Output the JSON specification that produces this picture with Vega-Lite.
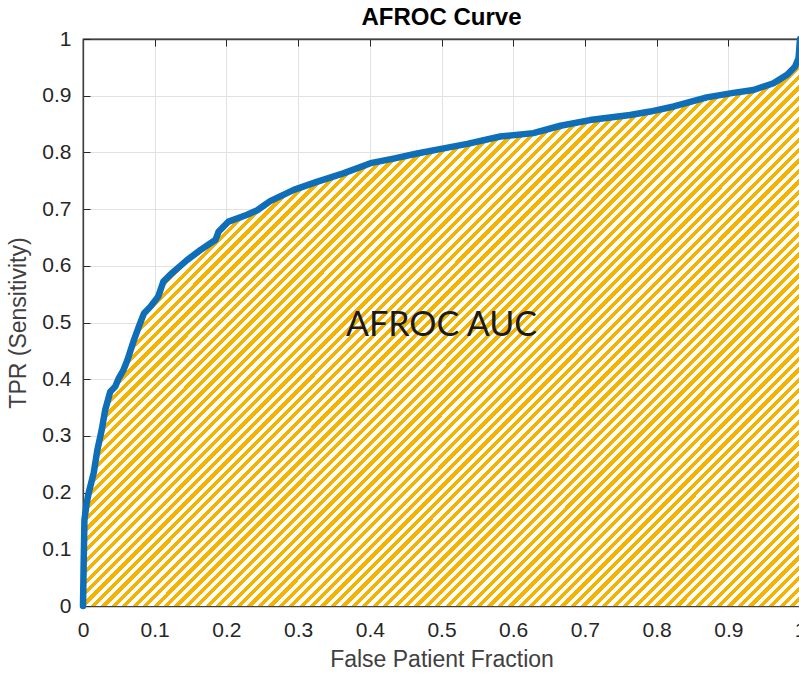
{
  "$schema": "https://vega.github.io/schema/vega-lite/v6.json",
  "width": 717,
  "height": 567,
  "autosize": {"type": "none"},
  "padding": {"left": 83, "top": 39, "right": 0, "bottom": 69},
  "background": "white",
  "config": {"view": {"stroke": "#404040", "strokeWidth": 1.3}, "font": "Liberation Sans"},
  "title": {"text": "AFROC Curve", "fontSize": 24, "fontWeight": "bold", "color": "#000000", "font": "Liberation Sans", "offset": -2},
  "datasets": {
    "curve": [
      {"fpf": 0, "tpr": 0},
      {"fpf": 0.001, "tpr": 0.08},
      {"fpf": 0.002, "tpr": 0.152},
      {"fpf": 0.005, "tpr": 0.18},
      {"fpf": 0.008, "tpr": 0.2},
      {"fpf": 0.015, "tpr": 0.235},
      {"fpf": 0.02, "tpr": 0.275},
      {"fpf": 0.026, "tpr": 0.31},
      {"fpf": 0.031, "tpr": 0.346},
      {"fpf": 0.038, "tpr": 0.378},
      {"fpf": 0.045, "tpr": 0.387},
      {"fpf": 0.05, "tpr": 0.402},
      {"fpf": 0.056, "tpr": 0.415},
      {"fpf": 0.062, "tpr": 0.434},
      {"fpf": 0.071, "tpr": 0.469},
      {"fpf": 0.078, "tpr": 0.493},
      {"fpf": 0.085, "tpr": 0.516},
      {"fpf": 0.094, "tpr": 0.528},
      {"fpf": 0.105, "tpr": 0.546},
      {"fpf": 0.112, "tpr": 0.572},
      {"fpf": 0.124, "tpr": 0.587},
      {"fpf": 0.145, "tpr": 0.61},
      {"fpf": 0.164, "tpr": 0.628},
      {"fpf": 0.185, "tpr": 0.646},
      {"fpf": 0.189, "tpr": 0.66},
      {"fpf": 0.203, "tpr": 0.678},
      {"fpf": 0.229, "tpr": 0.69},
      {"fpf": 0.243, "tpr": 0.698},
      {"fpf": 0.261, "tpr": 0.714},
      {"fpf": 0.294, "tpr": 0.734},
      {"fpf": 0.326, "tpr": 0.748},
      {"fpf": 0.363, "tpr": 0.763},
      {"fpf": 0.401, "tpr": 0.781},
      {"fpf": 0.433, "tpr": 0.789},
      {"fpf": 0.466, "tpr": 0.798},
      {"fpf": 0.503, "tpr": 0.807},
      {"fpf": 0.536, "tpr": 0.815},
      {"fpf": 0.582, "tpr": 0.828},
      {"fpf": 0.628, "tpr": 0.834},
      {"fpf": 0.666, "tpr": 0.847},
      {"fpf": 0.707, "tpr": 0.857},
      {"fpf": 0.763, "tpr": 0.866},
      {"fpf": 0.791, "tpr": 0.872},
      {"fpf": 0.824, "tpr": 0.881},
      {"fpf": 0.87, "tpr": 0.897},
      {"fpf": 0.907, "tpr": 0.905},
      {"fpf": 0.935, "tpr": 0.91},
      {"fpf": 0.963, "tpr": 0.922},
      {"fpf": 0.982, "tpr": 0.937},
      {"fpf": 0.993, "tpr": 0.951},
      {"fpf": 0.998, "tpr": 0.966},
      {"fpf": 1.0, "tpr": 1.0}
    ],
    "label": [{"fpf": 0.5, "tpr": 0.494, "text": "AFROC AUC"}]
  },
  "layer": [
    {
      "data": {"name": "curve"},
      "mark": {
        "type": "area",
        "stroke": null,
        "fill": {
          "gradient": "linear", "x1": 0, "y1": 0, "x2": 1.12, "y2": 0.885,
          "stops": [
            {"offset": 0, "color": "#F3B300"},
            {"offset": 0.004, "color": "#F3B300"},{"offset": 0.004, "color": "#FFFFFF"},{"offset": 0.008, "color": "#FFFFFF"},{"offset": 0.008, "color": "#F3B300"},{"offset": 0.012, "color": "#F3B300"},{"offset": 0.012, "color": "#FFFFFF"},{"offset": 0.016, "color": "#FFFFFF"},{"offset": 0.016, "color": "#F3B300"},{"offset": 0.02, "color": "#F3B300"},{"offset": 0.02, "color": "#FFFFFF"},{"offset": 0.024, "color": "#FFFFFF"},{"offset": 0.024, "color": "#F3B300"},{"offset": 0.028, "color": "#F3B300"},{"offset": 0.028, "color": "#FFFFFF"},{"offset": 0.032, "color": "#FFFFFF"},{"offset": 0.032, "color": "#F3B300"},{"offset": 0.036, "color": "#F3B300"},{"offset": 0.036, "color": "#FFFFFF"},{"offset": 0.04, "color": "#FFFFFF"},{"offset": 0.04, "color": "#F3B300"},
            {"offset": 0.044, "color": "#F3B300"},{"offset": 0.044, "color": "#FFFFFF"},{"offset": 0.048, "color": "#FFFFFF"},{"offset": 0.048, "color": "#F3B300"},{"offset": 0.052, "color": "#F3B300"},{"offset": 0.052, "color": "#FFFFFF"},{"offset": 0.056, "color": "#FFFFFF"},{"offset": 0.056, "color": "#F3B300"},{"offset": 0.06, "color": "#F3B300"},{"offset": 0.06, "color": "#FFFFFF"},{"offset": 0.064, "color": "#FFFFFF"},{"offset": 0.064, "color": "#F3B300"},{"offset": 0.068, "color": "#F3B300"},{"offset": 0.068, "color": "#FFFFFF"},{"offset": 0.072, "color": "#FFFFFF"},{"offset": 0.072, "color": "#F3B300"},{"offset": 0.076, "color": "#F3B300"},{"offset": 0.076, "color": "#FFFFFF"},{"offset": 0.08, "color": "#FFFFFF"},{"offset": 0.08, "color": "#F3B300"},
            {"offset": 0.084, "color": "#F3B300"},{"offset": 0.084, "color": "#FFFFFF"},{"offset": 0.088, "color": "#FFFFFF"},{"offset": 0.088, "color": "#F3B300"},{"offset": 0.092, "color": "#F3B300"},{"offset": 0.092, "color": "#FFFFFF"},{"offset": 0.096, "color": "#FFFFFF"},{"offset": 0.096, "color": "#F3B300"},{"offset": 0.1, "color": "#F3B300"},{"offset": 0.1, "color": "#FFFFFF"},{"offset": 0.104, "color": "#FFFFFF"},{"offset": 0.104, "color": "#F3B300"},{"offset": 0.108, "color": "#F3B300"},{"offset": 0.108, "color": "#FFFFFF"},{"offset": 0.112, "color": "#FFFFFF"},{"offset": 0.112, "color": "#F3B300"},{"offset": 0.116, "color": "#F3B300"},{"offset": 0.116, "color": "#FFFFFF"},{"offset": 0.12, "color": "#FFFFFF"},{"offset": 0.12, "color": "#F3B300"},
            {"offset": 0.124, "color": "#F3B300"},{"offset": 0.124, "color": "#FFFFFF"},{"offset": 0.128, "color": "#FFFFFF"},{"offset": 0.128, "color": "#F3B300"},{"offset": 0.132, "color": "#F3B300"},{"offset": 0.132, "color": "#FFFFFF"},{"offset": 0.136, "color": "#FFFFFF"},{"offset": 0.136, "color": "#F3B300"},{"offset": 0.14, "color": "#F3B300"},{"offset": 0.14, "color": "#FFFFFF"},{"offset": 0.144, "color": "#FFFFFF"},{"offset": 0.144, "color": "#F3B300"},{"offset": 0.148, "color": "#F3B300"},{"offset": 0.148, "color": "#FFFFFF"},{"offset": 0.152, "color": "#FFFFFF"},{"offset": 0.152, "color": "#F3B300"},{"offset": 0.156, "color": "#F3B300"},{"offset": 0.156, "color": "#FFFFFF"},{"offset": 0.16, "color": "#FFFFFF"},{"offset": 0.16, "color": "#F3B300"},
            {"offset": 0.164, "color": "#F3B300"},{"offset": 0.164, "color": "#FFFFFF"},{"offset": 0.168, "color": "#FFFFFF"},{"offset": 0.168, "color": "#F3B300"},{"offset": 0.172, "color": "#F3B300"},{"offset": 0.172, "color": "#FFFFFF"},{"offset": 0.176, "color": "#FFFFFF"},{"offset": 0.176, "color": "#F3B300"},{"offset": 0.18, "color": "#F3B300"},{"offset": 0.18, "color": "#FFFFFF"},{"offset": 0.184, "color": "#FFFFFF"},{"offset": 0.184, "color": "#F3B300"},{"offset": 0.188, "color": "#F3B300"},{"offset": 0.188, "color": "#FFFFFF"},{"offset": 0.192, "color": "#FFFFFF"},{"offset": 0.192, "color": "#F3B300"},{"offset": 0.196, "color": "#F3B300"},{"offset": 0.196, "color": "#FFFFFF"},{"offset": 0.2, "color": "#FFFFFF"},{"offset": 0.2, "color": "#F3B300"},
            {"offset": 0.204, "color": "#F3B300"},{"offset": 0.204, "color": "#FFFFFF"},{"offset": 0.208, "color": "#FFFFFF"},{"offset": 0.208, "color": "#F3B300"},{"offset": 0.212, "color": "#F3B300"},{"offset": 0.212, "color": "#FFFFFF"},{"offset": 0.216, "color": "#FFFFFF"},{"offset": 0.216, "color": "#F3B300"},{"offset": 0.22, "color": "#F3B300"},{"offset": 0.22, "color": "#FFFFFF"},{"offset": 0.224, "color": "#FFFFFF"},{"offset": 0.224, "color": "#F3B300"},{"offset": 0.228, "color": "#F3B300"},{"offset": 0.228, "color": "#FFFFFF"},{"offset": 0.232, "color": "#FFFFFF"},{"offset": 0.232, "color": "#F3B300"},{"offset": 0.236, "color": "#F3B300"},{"offset": 0.236, "color": "#FFFFFF"},{"offset": 0.24, "color": "#FFFFFF"},{"offset": 0.24, "color": "#F3B300"},
            {"offset": 0.244, "color": "#F3B300"},{"offset": 0.244, "color": "#FFFFFF"},{"offset": 0.248, "color": "#FFFFFF"},{"offset": 0.248, "color": "#F3B300"},{"offset": 0.252, "color": "#F3B300"},{"offset": 0.252, "color": "#FFFFFF"},{"offset": 0.256, "color": "#FFFFFF"},{"offset": 0.256, "color": "#F3B300"},{"offset": 0.26, "color": "#F3B300"},{"offset": 0.26, "color": "#FFFFFF"},{"offset": 0.264, "color": "#FFFFFF"},{"offset": 0.264, "color": "#F3B300"},{"offset": 0.268, "color": "#F3B300"},{"offset": 0.268, "color": "#FFFFFF"},{"offset": 0.272, "color": "#FFFFFF"},{"offset": 0.272, "color": "#F3B300"},{"offset": 0.276, "color": "#F3B300"},{"offset": 0.276, "color": "#FFFFFF"},{"offset": 0.28, "color": "#FFFFFF"},{"offset": 0.28, "color": "#F3B300"},
            {"offset": 0.284, "color": "#F3B300"},{"offset": 0.284, "color": "#FFFFFF"},{"offset": 0.288, "color": "#FFFFFF"},{"offset": 0.288, "color": "#F3B300"},{"offset": 0.292, "color": "#F3B300"},{"offset": 0.292, "color": "#FFFFFF"},{"offset": 0.296, "color": "#FFFFFF"},{"offset": 0.296, "color": "#F3B300"},{"offset": 0.3, "color": "#F3B300"},{"offset": 0.3, "color": "#FFFFFF"},{"offset": 0.304, "color": "#FFFFFF"},{"offset": 0.304, "color": "#F3B300"},{"offset": 0.308, "color": "#F3B300"},{"offset": 0.308, "color": "#FFFFFF"},{"offset": 0.312, "color": "#FFFFFF"},{"offset": 0.312, "color": "#F3B300"},{"offset": 0.316, "color": "#F3B300"},{"offset": 0.316, "color": "#FFFFFF"},{"offset": 0.32, "color": "#FFFFFF"},{"offset": 0.32, "color": "#F3B300"},
            {"offset": 0.324, "color": "#F3B300"},{"offset": 0.324, "color": "#FFFFFF"},{"offset": 0.328, "color": "#FFFFFF"},{"offset": 0.328, "color": "#F3B300"},{"offset": 0.332, "color": "#F3B300"},{"offset": 0.332, "color": "#FFFFFF"},{"offset": 0.336, "color": "#FFFFFF"},{"offset": 0.336, "color": "#F3B300"},{"offset": 0.34, "color": "#F3B300"},{"offset": 0.34, "color": "#FFFFFF"},{"offset": 0.344, "color": "#FFFFFF"},{"offset": 0.344, "color": "#F3B300"},{"offset": 0.348, "color": "#F3B300"},{"offset": 0.348, "color": "#FFFFFF"},{"offset": 0.352, "color": "#FFFFFF"},{"offset": 0.352, "color": "#F3B300"},{"offset": 0.356, "color": "#F3B300"},{"offset": 0.356, "color": "#FFFFFF"},{"offset": 0.36, "color": "#FFFFFF"},{"offset": 0.36, "color": "#F3B300"},
            {"offset": 0.364, "color": "#F3B300"},{"offset": 0.364, "color": "#FFFFFF"},{"offset": 0.368, "color": "#FFFFFF"},{"offset": 0.368, "color": "#F3B300"},{"offset": 0.372, "color": "#F3B300"},{"offset": 0.372, "color": "#FFFFFF"},{"offset": 0.376, "color": "#FFFFFF"},{"offset": 0.376, "color": "#F3B300"},{"offset": 0.38, "color": "#F3B300"},{"offset": 0.38, "color": "#FFFFFF"},{"offset": 0.384, "color": "#FFFFFF"},{"offset": 0.384, "color": "#F3B300"},{"offset": 0.388, "color": "#F3B300"},{"offset": 0.388, "color": "#FFFFFF"},{"offset": 0.392, "color": "#FFFFFF"},{"offset": 0.392, "color": "#F3B300"},{"offset": 0.396, "color": "#F3B300"},{"offset": 0.396, "color": "#FFFFFF"},{"offset": 0.4, "color": "#FFFFFF"},{"offset": 0.4, "color": "#F3B300"},
            {"offset": 0.404, "color": "#F3B300"},{"offset": 0.404, "color": "#FFFFFF"},{"offset": 0.408, "color": "#FFFFFF"},{"offset": 0.408, "color": "#F3B300"},{"offset": 0.412, "color": "#F3B300"},{"offset": 0.412, "color": "#FFFFFF"},{"offset": 0.416, "color": "#FFFFFF"},{"offset": 0.416, "color": "#F3B300"},{"offset": 0.42, "color": "#F3B300"},{"offset": 0.42, "color": "#FFFFFF"},{"offset": 0.424, "color": "#FFFFFF"},{"offset": 0.424, "color": "#F3B300"},{"offset": 0.428, "color": "#F3B300"},{"offset": 0.428, "color": "#FFFFFF"},{"offset": 0.432, "color": "#FFFFFF"},{"offset": 0.432, "color": "#F3B300"},{"offset": 0.436, "color": "#F3B300"},{"offset": 0.436, "color": "#FFFFFF"},{"offset": 0.44, "color": "#FFFFFF"},{"offset": 0.44, "color": "#F3B300"},
            {"offset": 0.444, "color": "#F3B300"},{"offset": 0.444, "color": "#FFFFFF"},{"offset": 0.448, "color": "#FFFFFF"},{"offset": 0.448, "color": "#F3B300"},{"offset": 0.452, "color": "#F3B300"},{"offset": 0.452, "color": "#FFFFFF"},{"offset": 0.456, "color": "#FFFFFF"},{"offset": 0.456, "color": "#F3B300"},{"offset": 0.46, "color": "#F3B300"},{"offset": 0.46, "color": "#FFFFFF"},{"offset": 0.464, "color": "#FFFFFF"},{"offset": 0.464, "color": "#F3B300"},{"offset": 0.468, "color": "#F3B300"},{"offset": 0.468, "color": "#FFFFFF"},{"offset": 0.472, "color": "#FFFFFF"},{"offset": 0.472, "color": "#F3B300"},{"offset": 0.476, "color": "#F3B300"},{"offset": 0.476, "color": "#FFFFFF"},{"offset": 0.48, "color": "#FFFFFF"},{"offset": 0.48, "color": "#F3B300"},
            {"offset": 0.484, "color": "#F3B300"},{"offset": 0.484, "color": "#FFFFFF"},{"offset": 0.488, "color": "#FFFFFF"},{"offset": 0.488, "color": "#F3B300"},{"offset": 0.492, "color": "#F3B300"},{"offset": 0.492, "color": "#FFFFFF"},{"offset": 0.496, "color": "#FFFFFF"},{"offset": 0.496, "color": "#F3B300"},{"offset": 0.5, "color": "#F3B300"},{"offset": 0.5, "color": "#FFFFFF"},{"offset": 0.504, "color": "#FFFFFF"},{"offset": 0.504, "color": "#F3B300"},{"offset": 0.508, "color": "#F3B300"},{"offset": 0.508, "color": "#FFFFFF"},{"offset": 0.512, "color": "#FFFFFF"},{"offset": 0.512, "color": "#F3B300"},{"offset": 0.516, "color": "#F3B300"},{"offset": 0.516, "color": "#FFFFFF"},{"offset": 0.52, "color": "#FFFFFF"},{"offset": 0.52, "color": "#F3B300"},
            {"offset": 0.524, "color": "#F3B300"},{"offset": 0.524, "color": "#FFFFFF"},{"offset": 0.528, "color": "#FFFFFF"},{"offset": 0.528, "color": "#F3B300"},{"offset": 0.532, "color": "#F3B300"},{"offset": 0.532, "color": "#FFFFFF"},{"offset": 0.536, "color": "#FFFFFF"},{"offset": 0.536, "color": "#F3B300"},{"offset": 0.54, "color": "#F3B300"},{"offset": 0.54, "color": "#FFFFFF"},{"offset": 0.544, "color": "#FFFFFF"},{"offset": 0.544, "color": "#F3B300"},{"offset": 0.548, "color": "#F3B300"},{"offset": 0.548, "color": "#FFFFFF"},{"offset": 0.552, "color": "#FFFFFF"},{"offset": 0.552, "color": "#F3B300"},{"offset": 0.556, "color": "#F3B300"},{"offset": 0.556, "color": "#FFFFFF"},{"offset": 0.56, "color": "#FFFFFF"},{"offset": 0.56, "color": "#F3B300"},
            {"offset": 0.564, "color": "#F3B300"},{"offset": 0.564, "color": "#FFFFFF"},{"offset": 0.568, "color": "#FFFFFF"},{"offset": 0.568, "color": "#F3B300"},{"offset": 0.572, "color": "#F3B300"},{"offset": 0.572, "color": "#FFFFFF"},{"offset": 0.576, "color": "#FFFFFF"},{"offset": 0.576, "color": "#F3B300"},{"offset": 0.58, "color": "#F3B300"},{"offset": 0.58, "color": "#FFFFFF"},{"offset": 0.584, "color": "#FFFFFF"},{"offset": 0.584, "color": "#F3B300"},{"offset": 0.588, "color": "#F3B300"},{"offset": 0.588, "color": "#FFFFFF"},{"offset": 0.592, "color": "#FFFFFF"},{"offset": 0.592, "color": "#F3B300"},{"offset": 0.596, "color": "#F3B300"},{"offset": 0.596, "color": "#FFFFFF"},{"offset": 0.6, "color": "#FFFFFF"},{"offset": 0.6, "color": "#F3B300"},
            {"offset": 0.604, "color": "#F3B300"},{"offset": 0.604, "color": "#FFFFFF"},{"offset": 0.608, "color": "#FFFFFF"},{"offset": 0.608, "color": "#F3B300"},{"offset": 0.612, "color": "#F3B300"},{"offset": 0.612, "color": "#FFFFFF"},{"offset": 0.616, "color": "#FFFFFF"},{"offset": 0.616, "color": "#F3B300"},{"offset": 0.62, "color": "#F3B300"},{"offset": 0.62, "color": "#FFFFFF"},{"offset": 0.624, "color": "#FFFFFF"},{"offset": 0.624, "color": "#F3B300"},{"offset": 0.628, "color": "#F3B300"},{"offset": 0.628, "color": "#FFFFFF"},{"offset": 0.632, "color": "#FFFFFF"},{"offset": 0.632, "color": "#F3B300"},{"offset": 0.636, "color": "#F3B300"},{"offset": 0.636, "color": "#FFFFFF"},{"offset": 0.64, "color": "#FFFFFF"},{"offset": 0.64, "color": "#F3B300"},
            {"offset": 0.644, "color": "#F3B300"},{"offset": 0.644, "color": "#FFFFFF"},{"offset": 0.648, "color": "#FFFFFF"},{"offset": 0.648, "color": "#F3B300"},{"offset": 0.652, "color": "#F3B300"},{"offset": 0.652, "color": "#FFFFFF"},{"offset": 0.656, "color": "#FFFFFF"},{"offset": 0.656, "color": "#F3B300"},{"offset": 0.66, "color": "#F3B300"},{"offset": 0.66, "color": "#FFFFFF"},{"offset": 0.664, "color": "#FFFFFF"},{"offset": 0.664, "color": "#F3B300"},{"offset": 0.668, "color": "#F3B300"},{"offset": 0.668, "color": "#FFFFFF"},{"offset": 0.672, "color": "#FFFFFF"},{"offset": 0.672, "color": "#F3B300"},{"offset": 0.676, "color": "#F3B300"},{"offset": 0.676, "color": "#FFFFFF"},{"offset": 0.68, "color": "#FFFFFF"},{"offset": 0.68, "color": "#F3B300"},
            {"offset": 0.684, "color": "#F3B300"},{"offset": 0.684, "color": "#FFFFFF"},{"offset": 0.688, "color": "#FFFFFF"},{"offset": 0.688, "color": "#F3B300"},{"offset": 0.692, "color": "#F3B300"},{"offset": 0.692, "color": "#FFFFFF"},{"offset": 0.696, "color": "#FFFFFF"},{"offset": 0.696, "color": "#F3B300"},{"offset": 0.7, "color": "#F3B300"},{"offset": 0.7, "color": "#FFFFFF"},{"offset": 0.704, "color": "#FFFFFF"},{"offset": 0.704, "color": "#F3B300"},{"offset": 0.708, "color": "#F3B300"},{"offset": 0.708, "color": "#FFFFFF"},{"offset": 0.712, "color": "#FFFFFF"},{"offset": 0.712, "color": "#F3B300"},{"offset": 0.716, "color": "#F3B300"},{"offset": 0.716, "color": "#FFFFFF"},{"offset": 0.72, "color": "#FFFFFF"},{"offset": 0.72, "color": "#F3B300"},
            {"offset": 0.724, "color": "#F3B300"},{"offset": 0.724, "color": "#FFFFFF"},{"offset": 0.728, "color": "#FFFFFF"},{"offset": 0.728, "color": "#F3B300"},{"offset": 0.732, "color": "#F3B300"},{"offset": 0.732, "color": "#FFFFFF"},{"offset": 0.736, "color": "#FFFFFF"},{"offset": 0.736, "color": "#F3B300"},{"offset": 0.74, "color": "#F3B300"},{"offset": 0.74, "color": "#FFFFFF"},{"offset": 0.744, "color": "#FFFFFF"},{"offset": 0.744, "color": "#F3B300"},{"offset": 0.748, "color": "#F3B300"},{"offset": 0.748, "color": "#FFFFFF"},{"offset": 0.752, "color": "#FFFFFF"},{"offset": 0.752, "color": "#F3B300"},{"offset": 0.756, "color": "#F3B300"},{"offset": 0.756, "color": "#FFFFFF"},{"offset": 0.76, "color": "#FFFFFF"},{"offset": 0.76, "color": "#F3B300"},
            {"offset": 0.764, "color": "#F3B300"},{"offset": 0.764, "color": "#FFFFFF"},{"offset": 0.768, "color": "#FFFFFF"},{"offset": 0.768, "color": "#F3B300"},{"offset": 0.772, "color": "#F3B300"},{"offset": 0.772, "color": "#FFFFFF"},{"offset": 0.776, "color": "#FFFFFF"},{"offset": 0.776, "color": "#F3B300"},{"offset": 0.78, "color": "#F3B300"},{"offset": 0.78, "color": "#FFFFFF"},{"offset": 0.784, "color": "#FFFFFF"},{"offset": 0.784, "color": "#F3B300"},{"offset": 0.788, "color": "#F3B300"},{"offset": 0.788, "color": "#FFFFFF"},{"offset": 0.792, "color": "#FFFFFF"},{"offset": 0.792, "color": "#F3B300"},{"offset": 0.796, "color": "#F3B300"},{"offset": 0.796, "color": "#FFFFFF"},{"offset": 0.8, "color": "#FFFFFF"},{"offset": 0.8, "color": "#F3B300"},
            {"offset": 0.804, "color": "#F3B300"},{"offset": 0.804, "color": "#FFFFFF"},{"offset": 0.808, "color": "#FFFFFF"},{"offset": 0.808, "color": "#F3B300"},{"offset": 0.812, "color": "#F3B300"},{"offset": 0.812, "color": "#FFFFFF"},{"offset": 0.816, "color": "#FFFFFF"},{"offset": 0.816, "color": "#F3B300"},{"offset": 0.82, "color": "#F3B300"},{"offset": 0.82, "color": "#FFFFFF"},{"offset": 0.824, "color": "#FFFFFF"},{"offset": 0.824, "color": "#F3B300"},{"offset": 0.828, "color": "#F3B300"},{"offset": 0.828, "color": "#FFFFFF"},{"offset": 0.832, "color": "#FFFFFF"},{"offset": 0.832, "color": "#F3B300"},{"offset": 0.836, "color": "#F3B300"},{"offset": 0.836, "color": "#FFFFFF"},{"offset": 0.84, "color": "#FFFFFF"},{"offset": 0.84, "color": "#F3B300"},
            {"offset": 0.844, "color": "#F3B300"},{"offset": 0.844, "color": "#FFFFFF"},{"offset": 0.848, "color": "#FFFFFF"},{"offset": 0.848, "color": "#F3B300"},{"offset": 0.852, "color": "#F3B300"},{"offset": 0.852, "color": "#FFFFFF"},{"offset": 0.856, "color": "#FFFFFF"},{"offset": 0.856, "color": "#F3B300"},{"offset": 0.86, "color": "#F3B300"},{"offset": 0.86, "color": "#FFFFFF"},{"offset": 0.864, "color": "#FFFFFF"},{"offset": 0.864, "color": "#F3B300"},{"offset": 0.868, "color": "#F3B300"},{"offset": 0.868, "color": "#FFFFFF"},{"offset": 0.872, "color": "#FFFFFF"},{"offset": 0.872, "color": "#F3B300"},{"offset": 0.876, "color": "#F3B300"},{"offset": 0.876, "color": "#FFFFFF"},{"offset": 0.88, "color": "#FFFFFF"},{"offset": 0.88, "color": "#F3B300"},
            {"offset": 0.884, "color": "#F3B300"},{"offset": 0.884, "color": "#FFFFFF"},{"offset": 0.888, "color": "#FFFFFF"},{"offset": 0.888, "color": "#F3B300"},{"offset": 0.892, "color": "#F3B300"},{"offset": 0.892, "color": "#FFFFFF"},{"offset": 0.896, "color": "#FFFFFF"},{"offset": 0.896, "color": "#F3B300"},{"offset": 0.9, "color": "#F3B300"},{"offset": 0.9, "color": "#FFFFFF"},{"offset": 0.904, "color": "#FFFFFF"},{"offset": 0.904, "color": "#F3B300"},{"offset": 0.908, "color": "#F3B300"},{"offset": 0.908, "color": "#FFFFFF"},{"offset": 0.912, "color": "#FFFFFF"},{"offset": 0.912, "color": "#F3B300"},{"offset": 0.916, "color": "#F3B300"},{"offset": 0.916, "color": "#FFFFFF"},{"offset": 0.92, "color": "#FFFFFF"},{"offset": 0.92, "color": "#F3B300"},
            {"offset": 0.924, "color": "#F3B300"},{"offset": 0.924, "color": "#FFFFFF"},{"offset": 0.928, "color": "#FFFFFF"},{"offset": 0.928, "color": "#F3B300"},{"offset": 0.932, "color": "#F3B300"},{"offset": 0.932, "color": "#FFFFFF"},{"offset": 0.936, "color": "#FFFFFF"},{"offset": 0.936, "color": "#F3B300"},{"offset": 0.94, "color": "#F3B300"},{"offset": 0.94, "color": "#FFFFFF"},{"offset": 0.944, "color": "#FFFFFF"},{"offset": 0.944, "color": "#F3B300"},{"offset": 0.948, "color": "#F3B300"},{"offset": 0.948, "color": "#FFFFFF"},{"offset": 0.952, "color": "#FFFFFF"},{"offset": 0.952, "color": "#F3B300"},{"offset": 0.956, "color": "#F3B300"},{"offset": 0.956, "color": "#FFFFFF"},{"offset": 0.96, "color": "#FFFFFF"},{"offset": 0.96, "color": "#F3B300"},
            {"offset": 0.964, "color": "#F3B300"},{"offset": 0.964, "color": "#FFFFFF"},{"offset": 0.968, "color": "#FFFFFF"},{"offset": 0.968, "color": "#F3B300"},{"offset": 0.972, "color": "#F3B300"},{"offset": 0.972, "color": "#FFFFFF"},{"offset": 0.976, "color": "#FFFFFF"},{"offset": 0.976, "color": "#F3B300"},{"offset": 0.98, "color": "#F3B300"},{"offset": 0.98, "color": "#FFFFFF"},{"offset": 0.984, "color": "#FFFFFF"},{"offset": 0.984, "color": "#F3B300"},{"offset": 0.988, "color": "#F3B300"},{"offset": 0.988, "color": "#FFFFFF"},{"offset": 0.992, "color": "#FFFFFF"},{"offset": 0.992, "color": "#F3B300"},{"offset": 0.996, "color": "#F3B300"},{"offset": 0.996, "color": "#FFFFFF"},{"offset": 1, "color": "#FFFFFF"}
          ]
        }
      },
      "encoding": {
        "x": {
          "field": "fpf", "type": "quantitative",
          "scale": {"domain": [0, 1], "nice": false},
          "axis": {
            "orient": "bottom", "values": [0, 0.1, 0.2, 0.3, 0.4, 0.5, 0.6, 0.7, 0.8, 0.9, 1], "format": "~g",
            "labelFontSize": 21, "labelColor": "#262626", "labelFont": "Liberation Sans", "labelPadding": 20, "labelFlush": false,
            "tickSize": -7, "tickColor": "#262626", "domainColor": "#404040", "domainWidth": 1.3,
            "grid": true, "gridColor": "#e2e2e2", "gridWidth": 1,
            "title": "False Patient Fraction", "titleFontSize": 23, "titleFontWeight": "normal", "titleColor": "#404040", "titleFont": "Liberation Sans", "titlePadding": 8
          }
        },
        "y": {
          "field": "tpr", "type": "quantitative", "stack": null,
          "scale": {"domain": [0, 1], "nice": false},
          "axis": {
            "orient": "left", "values": [0, 0.1, 0.2, 0.3, 0.4, 0.5, 0.6, 0.7, 0.8, 0.9, 1], "format": "~g",
            "labelFontSize": 21, "labelColor": "#262626", "labelFont": "Liberation Sans", "labelPadding": 19, "labelFlush": false,
            "tickSize": -7, "tickColor": "#262626", "domainColor": "#404040", "domainWidth": 1.3,
            "grid": true, "gridColor": "#e2e2e2", "gridWidth": 1,
            "title": "TPR (Sensitivity)", "titleFontSize": 23, "titleFontWeight": "normal", "titleColor": "#404040", "titleFont": "Liberation Sans", "titlePadding": 11
          }
        }
      }
    },
    {
      "data": {"name": "curve"},
      "mark": {"type": "line", "color": "#0E6EB8", "strokeWidth": 6.5, "strokeJoin": "round", "strokeCap": "round"},
      "encoding": {
        "x": {
          "field": "fpf", "type": "quantitative",
          "axis": {"orient": "top", "values": [0, 0.1, 0.2, 0.3, 0.4, 0.5, 0.6, 0.7, 0.8, 0.9, 1], "labels": false, "title": null, "grid": false,
                   "tickSize": -7, "tickColor": "#262626", "domainColor": "#404040", "domainWidth": 1.3}
        },
        "y": {"field": "tpr", "type": "quantitative"}
      }
    },
    {
      "data": {"name": "label"},
      "mark": {"type": "text", "fontSize": 34, "font": "Lato", "color": "#1a1a1a", "align": "center", "baseline": "middle"},
      "encoding": {
        "x": {"field": "fpf", "type": "quantitative", "axis": null},
        "y": {"field": "tpr", "type": "quantitative"},
        "text": {"field": "text"}
      }
    }
  ],
  "resolve": {"axis": {"x": "independent"}}
}
